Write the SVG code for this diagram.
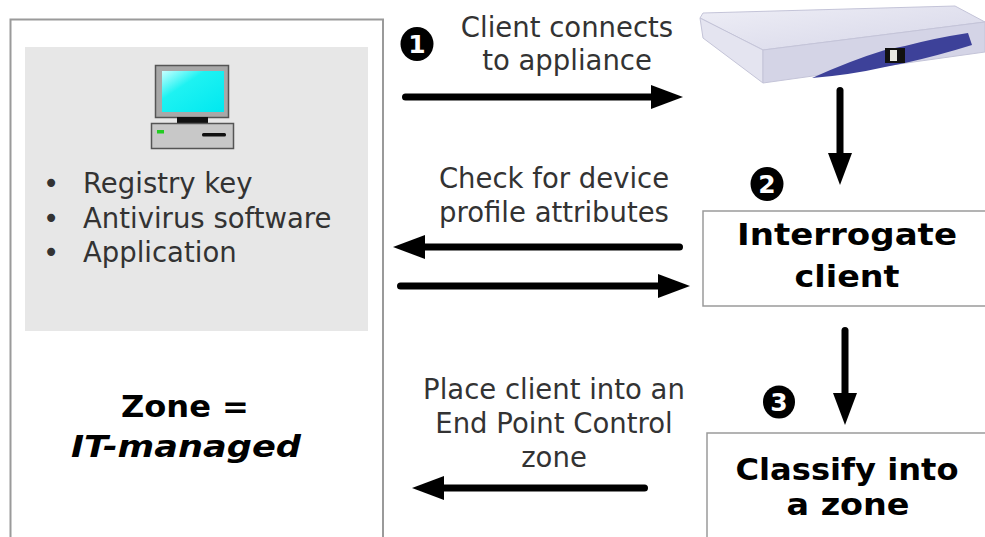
<svg xmlns="http://www.w3.org/2000/svg" width="985" height="537" viewBox="0 0 985 537">
  <defs>
    <style>
      .txt { font-family: "DejaVu Sans", Verdana, sans-serif; font-size: 27.5px; fill: #333; }
      .bold { font-family: "DejaVu Sans", Verdana, sans-serif; font-weight: bold; font-size: 29.5px; fill: #000; }
      .num { font-family: "DejaVu Sans", sans-serif; font-weight: bold; font-size: 25px; fill: #fff; text-anchor: middle; }
      .box { fill: #fff; stroke: #9a9a9a; stroke-width: 1.5; }
      .arrow { stroke: #000; stroke-width: 7; stroke-linecap: round; fill: none; marker-end: url(#head); }
    </style>
    <marker id="head" markerUnits="userSpaceOnUse" markerWidth="32" markerHeight="24" refX="12" refY="12" orient="auto">
      <path d="M0,0 L32,12 L0,24 Z" fill="#000"/>
    </marker>
    <linearGradient id="screen" x1="0" y1="0" x2="1" y2="1">
      <stop offset="0" stop-color="#c8ffff"/>
      <stop offset="0.35" stop-color="#1ef2f2"/>
      <stop offset="1" stop-color="#00e8f0"/>
    </linearGradient>
    <linearGradient id="topFace" x1="0" y1="0" x2="1" y2="1">
      <stop offset="0" stop-color="#eeeef6"/>
      <stop offset="1" stop-color="#d6d6e8"/>
    </linearGradient>
  </defs>

  <!-- client zone panel -->
  <g id="client-zone">
    <rect x="10.5" y="19.5" width="372.5" height="540" fill="#fff" stroke="#9a9a9a" stroke-width="2"/>
    <rect x="25" y="47" width="343" height="284" fill="#e7e7e7"/>
    <!-- desktop computer icon -->
    <g id="computer">
      <rect x="155.5" y="65.5" width="73" height="52" fill="#a8a8a8" stroke="#555" stroke-width="1.5"/>
      <rect x="162" y="71" width="62" height="41" fill="url(#screen)"/>
      <rect x="177" y="117" width="31" height="6" fill="#111"/>
      <rect x="151.5" y="123.5" width="82" height="25" fill="#c8c8c8" stroke="#555" stroke-width="1.5"/>
      <rect x="157" y="130" width="7" height="3.5" fill="#22cc22"/>
      <rect x="202" y="133" width="24" height="3.5" rx="1.5" fill="#111"/>
    </g>
    <text class="txt" x="51" y="193" text-anchor="middle">•</text>
    <text class="txt" x="83" y="193">Registry key</text>
    <text class="txt" x="51" y="228" text-anchor="middle">•</text>
    <text class="txt" x="83" y="228">Antivirus software</text>
    <text class="txt" x="51" y="262" text-anchor="middle">•</text>
    <text class="txt" x="83" y="262">Application</text>
    <text class="bold" x="185" y="417" text-anchor="middle" font-size="31" textLength="128" lengthAdjust="spacingAndGlyphs">Zone =</text>
    <text class="bold" x="186" y="457" text-anchor="middle" font-size="31" font-style="italic" textLength="230" lengthAdjust="spacingAndGlyphs">IT-managed</text>
  </g>

  <!-- appliance -->
  <g id="appliance">
    <polygon points="703,13 955,6 985,22 763,50 700,18" fill="url(#topFace)" stroke="#c4c4d8" stroke-width="1"/>
    <polygon points="700,18 763,50 763,83 703,38" fill="#e4e4f0" stroke="#c4c4d8" stroke-width="1"/>
    <polygon points="763,50 985,22 985,52 763,83" fill="#d4d4e6" stroke="#c4c4d8" stroke-width="1"/>
    <path d="M812,78 Q852,60 885,50 L905,46 Q935,38 968,33 L972,45 Q940,55 905,63 L885,67 Q850,75 812,78 Z" fill="#3d4199"/>
    <rect x="885" y="48" width="20" height="15" fill="#111"/>
    <rect x="890" y="50" width="7" height="11" fill="#e8e8e0"/>
  </g>

  <!-- process steps -->
  <g id="interrogate-client">
    <rect class="box" x="703" y="211" width="300" height="95"/>
    <text class="bold" x="847" y="245" text-anchor="middle" textLength="220" lengthAdjust="spacingAndGlyphs">Interrogate</text>
    <text class="bold" x="847" y="287" text-anchor="middle" textLength="105" lengthAdjust="spacingAndGlyphs">client</text>
  </g>
  <g id="classify-zone">
    <rect class="box" x="707" y="433" width="300" height="130"/>
    <text class="bold" x="847" y="480" text-anchor="middle" textLength="223" lengthAdjust="spacingAndGlyphs">Classify into</text>
    <text class="bold" x="848" y="515" text-anchor="middle" textLength="123" lengthAdjust="spacingAndGlyphs">a zone</text>
  </g>

  <!-- step badges -->
  <g id="step-1">
    <ellipse cx="417" cy="44" rx="16.5" ry="17" fill="#000"/>
    <text class="num" x="417" y="53">1</text>
  </g>
  <g id="step-2">
    <ellipse cx="767" cy="184" rx="16.5" ry="17" fill="#000"/>
    <text class="num" x="767" y="193">2</text>
  </g>
  <g id="step-3">
    <ellipse cx="779" cy="402" rx="16" ry="16.5" fill="#000"/>
    <text class="num" x="779" y="411">3</text>
  </g>

  <!-- connector labels -->
  <g id="labels" class="txt" text-anchor="middle">
    <text x="567" y="37">Client connects</text>
    <text x="567" y="70">to appliance</text>
    <text x="554" y="188">Check for device</text>
    <text x="554" y="222">profile attributes</text>
    <text x="554" y="399">Place client into an</text>
    <text x="554" y="433">End Point Control</text>
    <text x="554" y="467">zone</text>
  </g>

  <!-- connectors -->
  <g id="connectors">
    <line class="arrow" x1="405.5" y1="97" x2="663" y2="97"/>
    <line class="arrow" x1="840" y1="90.5" x2="840" y2="165"/>
    <line class="arrow" x1="679.5" y1="247" x2="413" y2="247"/>
    <line class="arrow" x1="400.5" y1="286" x2="670" y2="286"/>
    <line class="arrow" x1="845" y1="330.5" x2="845" y2="405"/>
    <line class="arrow" x1="644.5" y1="488" x2="432" y2="488"/>
  </g>
</svg>
